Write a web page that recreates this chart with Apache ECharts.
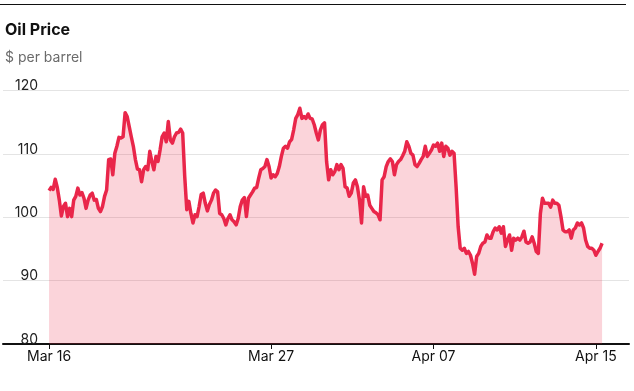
<!DOCTYPE html>
<html>
<head>
<meta charset="utf-8">
<script src="https://cdn.jsdelivr.net/npm/echarts@6/dist/echarts.min.js"></script>
<style>
html,body{margin:0;padding:0;background:#ffffff;}
#chart{width:634px;height:391px;}
</style>
</head>
<body>
<div id="chart"></div>
<script>
// Oil price ($ per barrel), samples in time order
var prices = [
104.2,104.7,104.4,106.0,104.7,102.7,100.2,101.7,102.2,100.1,
101.4,100.1,102.7,103.3,104.6,103.5,103.9,103.0,101.4,102.7,
103.5,103.8,102.7,102.8,101.4,100.9,101.7,103.3,104.3,109.1,
109.2,106.7,110.1,111.2,112.6,112.5,112.7,116.5,115.9,114.3,
112.7,111.2,109.1,107.6,107.5,105.6,107.5,108.0,107.5,110.4,
108.8,107.5,109.6,108.8,110.6,112.7,113.3,111.9,115.1,112.2,
111.7,112.7,113.3,113.4,113.9,113.3,106.4,101.2,102.5,100.6,
99.1,100.4,100.1,101.7,103.6,103.8,102.2,101.0,102.0,102.7,
103.8,104.3,104.0,100.6,100.4,99.8,98.8,99.8,100.4,99.6,
99.3,98.8,99.8,101.7,102.7,103.1,100.1,103.0,103.5,104.0,
104.6,104.7,106.2,107.5,107.7,108.0,109.1,108.0,106.2,106.7,
106.4,106.9,108.0,109.6,110.9,111.2,110.9,111.9,112.3,113.8,
115.6,116.2,117.2,115.6,115.9,115.6,116.3,115.6,115.5,114.6,
113.3,112.2,113.8,114.6,114.9,108.8,105.9,107.5,106.7,107.2,
108.3,107.5,108.3,107.7,104.8,104.6,103.3,103.8,105.4,105.9,
104.8,102.7,99.1,104.8,103.3,103.5,101.9,101.4,100.9,100.7,
100.4,99.6,105.9,106.4,108.0,108.8,109.2,108.8,106.7,108.3,
108.8,109.1,109.7,110.4,111.9,111.2,110.1,109.8,108.3,108.0,
108.5,109.1,109.6,111.2,109.6,110.1,110.6,111.4,111.2,111.7,
110.4,111.7,109.6,111.2,110.9,109.8,110.4,110.1,104.8,98.5,
95.1,94.8,95.1,94.3,94.6,94.0,92.7,91.0,93.8,94.3,
95.4,95.9,96.1,97.2,96.7,96.7,97.7,98.3,98.0,98.5,
97.5,98.5,95.4,96.4,97.2,94.8,96.7,96.4,96.7,96.4,
96.9,97.8,96.1,95.9,96.1,96.9,95.9,94.6,94.3,100.6,
103.0,102.2,102.2,102.2,101.6,102.7,102.2,102.2,101.9,100.1,
98.0,97.7,97.7,98.0,96.7,98.0,98.3,99.1,98.8,99.1,
98.3,96.4,95.4,95.1,95.1,94.8,94.0,94.6,95.1,95.9
];
// x-axis date labels and the sample index where each falls
var dateLabels = ['Mar 16', 'Mar 27', 'Apr 07', 'Apr 15'];
var dateIndex = [0, 108, 187, 266];
// y-axis ticks
var yTicks = [80, 90, 100, 110, 120];

var seriesData = prices.map(function (v, i) { return [i, v]; });
var FONT = 'Inter, "Noto Sans", sans-serif';

var chart = echarts.init(document.getElementById('chart'), null, {renderer: 'canvas'});
chart.setOption({
  backgroundColor: '#ffffff',
  animation: false,
  graphic: [{
    type: 'line', shape: {x1: 0, y1: 4.5, x2: 626, y2: 4.5},
    style: {stroke: '#111', lineWidth: 1}
  }],
  title: [
    {text: 'Oil Price', left: 5, top: 22, padding: 0,
     textStyle: {fontFamily: FONT, fontSize: 16, fontWeight: 'bold', color: '#111'}},
    {text: '$ per barrel', left: 5, top: 51, padding: 0,
     textStyle: {fontFamily: FONT, fontSize: 14, fontWeight: 'normal', color: '#6b6b6b'}}
  ],
  grid: {left: 3, right: 5, top: 90.5, bottom: 47, containLabel: false},
  xAxis: {
    type: 'value',
    min: -22.4,
    max: 282.1,
    axisLine: {show: true, lineStyle: {color: '#111', width: 2}},
    axisTick: {show: true, customValues: dateIndex, length: 5, lineStyle: {color: '#111', width: 1}},
    axisLabel: {
      customValues: dateIndex,
      margin: 6,
      fontFamily: FONT, fontSize: 14, color: '#111',
      formatter: function (v) {
        var k = dateIndex.indexOf(Math.round(v));
        return k >= 0 ? dateLabels[k] : '';
      }
    },
    splitLine: {show: false}
  },
  yAxis: {
    type: 'value',
    min: yTicks[0],
    max: yTicks[yTicks.length - 1],
    interval: 10,
    axisLine: {show: false},
    axisTick: {show: false},
    axisLabel: {
      inside: true, margin: 35, align: 'right', verticalAlign: 'bottom', lineHeight: 9,
      fontFamily: FONT, fontSize: 14, color: '#222',
      showMinLabel: true, showMaxLabel: true
    },
    splitLine: {show: true, lineStyle: {color: '#e4e4e4', width: 1}}
  },
  series: [{
    type: 'line',
    data: seriesData,
    showSymbol: false,
    symbol: 'none',
    lineStyle: {color: '#e9264a', width: 3.5, join: 'round'},
    areaStyle: {color: '#ec2848', opacity: 0.2, origin: 'start'},
    z: 3
  }]
});
</script>
</body>
</html>
